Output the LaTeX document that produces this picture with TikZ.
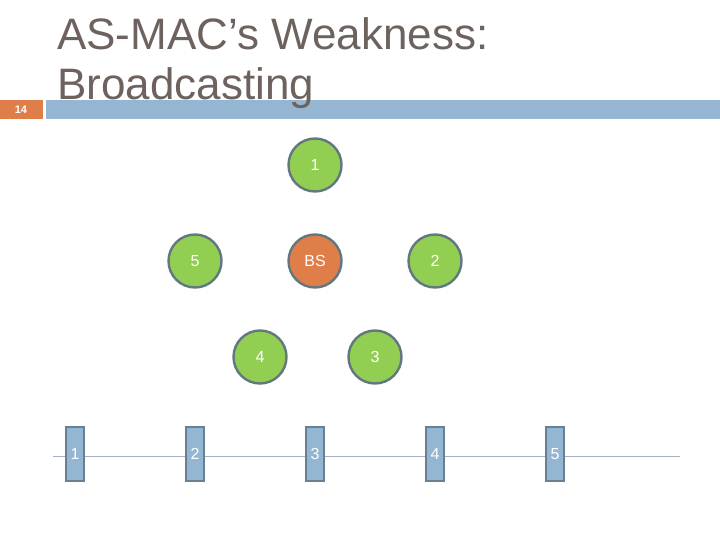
\documentclass[tikz,border=0pt]{standalone}
\usepackage{fontspec}
\setmainfont{Liberation Sans}
\usetikzlibrary{positioning}
\definecolor{nodegreen}{RGB}{146,206,82}
\definecolor{bsorange}{RGB}{224,126,74}
\definecolor{rimgray}{RGB}{98,120,128}
\definecolor{barblue}{RGB}{148,182,210}
\definecolor{slotrim}{RGB}{104,128,146}
\definecolor{linegray}{RGB}{162,178,192}
\definecolor{titlegray}{RGB}{110,98,94}
\def\NodeDist{120pt}
\def\RowDist{96pt}
\tikzset{
  sensor/.style={circle,draw=rimgray,line width=2.4pt,fill=nodegreen,
    minimum size=53pt,inner sep=0pt,text=white,font=\fontsize{16}{18}\selectfont},
  station/.style={sensor,fill=bsorange},
  slot/.style={rectangle,draw=slotrim,line width=2.6pt,fill=barblue,
    minimum width=18pt,minimum height=54pt,inner sep=0pt,text=white,
    font=\fontsize{16}{18}\selectfont},
}
\begin{document}
\begin{tikzpicture}[x=1pt,y=-1pt,on grid]
  \useasboundingbox (0,0) rectangle (720,540);
  % header bar
  \fill[bsorange] (0,100) rectangle (43,119);
  \fill[barblue] (46,100) rectangle (720,119);
  \node[text=white,font=\bfseries\fontsize{11}{12}\selectfont] (pagenum) at (21,110) {14};
  \node[anchor=base west,inner sep=0pt,align=left,text=titlegray,
    font=\fontsize{44}{50}\selectfont] (title) at (57,100)
    {AS-MAC’s Weakness:\\Broadcasting};
  % network
  \node[station] (bs) at (315,261) {BS};
  \node[sensor,above=\RowDist of bs] (n1) {1};
  \node[sensor,right=\NodeDist of bs] (n2) {2};
  \node[sensor,left=\NodeDist of bs] (n5) {5};
  \node[sensor,below left=\RowDist and 55pt of bs] (n4) {4};
  \node[sensor,below right=\RowDist and 60pt of bs] (n3) {3};
  % schedule
  \coordinate (tstart) at (53,456);
  \coordinate (tend) at (680,456);
  \draw[linegray,line width=1pt] (tstart) -- (tend);
  \foreach \i in {1,...,5}
    \node[slot] (s\i) at (75+120*\i-120,454) {\i};
\end{tikzpicture}
\end{document}
